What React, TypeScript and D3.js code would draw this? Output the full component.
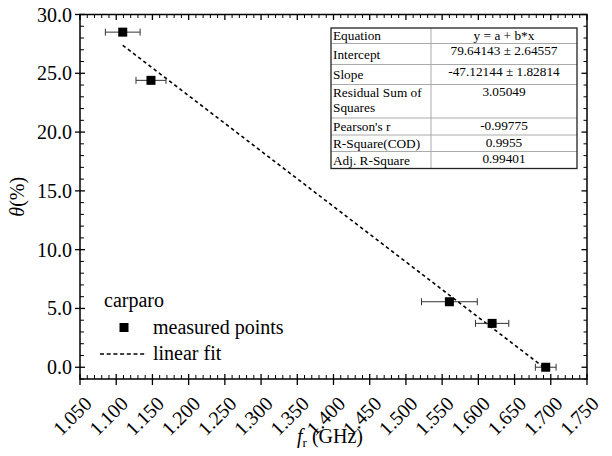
import React from "react";
import * as d3 from "d3";

// ---- data ----
const freq = [1.109, 1.148, 1.56, 1.619, 1.693];
const theta = [28.5, 24.4, 5.57, 3.73, 0.0];
const freqErr = [0.024, 0.0207, 0.0385, 0.023, 0.0143];
const fitIntercept = 79.64143;
const fitSlope = -47.12144;
const xTicks = [1.05, 1.1, 1.15, 1.2, 1.25, 1.3, 1.35, 1.4, 1.45, 1.5, 1.55, 1.6, 1.65, 1.7, 1.75];
const yTicks = [0, 5, 10, 15, 20, 25, 30];
const statLabels = [["Equation"], ["Intercept"], ["Slope"], ["Residual Sum of", "Squares"], ["Pearson's r"], ["R-Square(COD)"], ["Adj. R-Square"]];
const statValues = ["y = a + b*x", "79.64143 \u00b1 2.64557", "-47.12144 \u00b1 1.82814", "3.05049", "-0.99775", "0.9955", "0.99401"];
const legendTitle = "carparo";
const legendItems = ["measured points", "linear fit"];

// ---- layout ----
const W = 612, H = 456;
const L = 80, R = 587, T = 14.5, B = 379;
const FONT = "'Liberation Serif', 'Times New Roman', serif";
const rowLines = [28, 43.5, 64.5, 84.5, 118, 135, 151.5, 168.5];
const tableX0 = 331, tableX1 = 431, tableX2 = 577;

export default function App() {
  const x = d3.scaleLinear().domain([1.05, 1.75]).range([L, R]);
  const y = d3.scaleLinear().domain([-1, 30]).range([B, T]);

  const xMinor = d3.range(1.05, 1.7501, 0.01).filter(v => Math.abs(Math.round(v / 0.05) * 0.05 - v) > 1e-6);
  const yMinor = d3.range(-1, 30.001, 1).filter(v => Math.abs(v % 5) > 1e-6);

  const fitX = [d3.min(freq) as number, d3.max(freq) as number];
  const fitLine = d3.line<number>().x(v => x(v)).y(v => y(fitIntercept + fitSlope * v));

  const ms = 9;
  return (
    <svg width={W} height={H} style={{ position: "absolute", left: 0, top: 0, background: "#fff" }} fontFamily={FONT}>
      <rect x={0} y={0} width={W} height={H} fill="#fff" />
      {/* minor ticks */}
      {xMinor.map((v, i) => (
        <g key={"xm" + i} stroke="#000" strokeWidth={1}>
          <line x1={x(v)} x2={x(v)} y1={B} y2={B - 4} />
          <line x1={x(v)} x2={x(v)} y1={T} y2={T + 3.5} />
        </g>
      ))}
      {yMinor.map((v, i) => (
        <g key={"ym" + i} stroke="#000" strokeWidth={1}>
          <line x1={L} x2={L + 4} y1={y(v)} y2={y(v)} />
          <line x1={R} x2={R - 3.5} y1={y(v)} y2={y(v)} />
        </g>
      ))}
      {/* major ticks */}
      {xTicks.map((v, i) => (
        <g key={"xM" + i} stroke="#000" strokeWidth={1.3}>
          <line x1={x(v)} x2={x(v)} y1={B - 5} y2={B + 6} />
          <line x1={x(v)} x2={x(v)} y1={T} y2={T + 5.5} />
        </g>
      ))}
      {yTicks.map((v, i) => (
        <g key={"yM" + i} stroke="#000" strokeWidth={1.3}>
          <line x1={L - 5} x2={L + 5} y1={y(v)} y2={y(v)} />
          <line x1={R} x2={R - 5.5} y1={y(v)} y2={y(v)} />
        </g>
      ))}
      {/* frame */}
      <rect x={L} y={T} width={R - L} height={B - T} fill="none" stroke="#000" strokeWidth={1.5} />
      {/* tick labels */}
      {yTicks.map((v, i) => (
        <text key={"yl" + i} x={L - 8} y={y(v)} dy="0.35em" textAnchor="end" fontSize={20}>
          {v.toFixed(1)}
        </text>
      ))}
      {xTicks.map((v, i) => (
        <text key={"xl" + i} transform={`translate(${x(v) + 13},${B + 26}) rotate(-45)`} textAnchor="end" fontSize={20}>
          {v.toFixed(3)}
        </text>
      ))}
      {/* axis titles */}
      <text transform={`translate(24,${(T + B) / 2}) rotate(-90)`} textAnchor="middle" fontSize={20}>
        <tspan fontStyle="italic">θ</tspan>
        <tspan>(%)</tspan>
      </text>
      <text x={330} y={443} textAnchor="middle" fontSize={20}>
        <tspan fontStyle="italic">f</tspan>
        <tspan fontSize={13} dy={4}>r</tspan>
        <tspan dy={-4}> (GHz)</tspan>
      </text>
      {/* fit line */}
      <path d={fitLine(fitX) || ""} fill="none" stroke="#000" strokeWidth={1.6} strokeDasharray="3.5,3" />
      {/* error bars */}
      {freq.map((f, i) => (
        <g key={"e" + i} stroke="#333" strokeWidth={1}>
          <line x1={x(f - freqErr[i])} x2={x(f + freqErr[i])} y1={y(theta[i])} y2={y(theta[i])} />
          <line x1={x(f - freqErr[i])} x2={x(f - freqErr[i])} y1={y(theta[i]) - 3.5} y2={y(theta[i]) + 3.5} />
          <line x1={x(f + freqErr[i])} x2={x(f + freqErr[i])} y1={y(theta[i]) - 3.5} y2={y(theta[i]) + 3.5} />
        </g>
      ))}
      {/* markers */}
      {freq.map((f, i) => (
        <rect key={"m" + i} x={x(f) - ms / 2} y={y(theta[i]) - ms / 2} width={ms} height={ms} fill="#000" />
      ))}
      {/* legend */}
      <text x={104} y={306.5} fontSize={20}>{legendTitle}</text>
      <rect x={124 - ms / 2} y={327.5 - ms / 2} width={ms} height={ms} fill="#000" />
      <text x={153} y={334} fontSize={20}>{legendItems[0]}</text>
      <line x1={100} x2={147} y1={354} y2={354} stroke="#000" strokeWidth={1.5} strokeDasharray="4,2.7" />
      <text x={153} y={360} fontSize={20}>{legendItems[1]}</text>
      {/* stats table */}
      <rect x={tableX0} y={rowLines[0]} width={tableX2 - tableX0} height={rowLines[rowLines.length - 1] - rowLines[0]} fill="#fff" />
      {rowLines.slice(1, -1).map((ly, i) => (
        <line key={"tl" + i} x1={tableX0} x2={tableX2} y1={ly} y2={ly} stroke="#aaa" strokeWidth={1} />
      ))}
      <line x1={tableX1} x2={tableX1} y1={rowLines[0]} y2={rowLines[rowLines.length - 1]} stroke="#aaa" strokeWidth={1} />
      <rect x={tableX0} y={rowLines[0]} width={tableX2 - tableX0} height={rowLines[rowLines.length - 1] - rowLines[0]} fill="none" stroke="#222" strokeWidth={1.3} />
      {statLabels.map((lines, i) => {
        const top = rowLines[i], bot = rowLines[i + 1];
        const single = lines.length === 1;
        return (
          <g key={"sr" + i} fontSize={13.3}>
            {lines.map((ln, j) => (
              <text key={j} x={tableX0 + 2} y={single ? (top + bot) / 2 + 4.5 : top + 12.5 + j * 15}>{ln}</text>
            ))}
            <text x={(tableX1 + tableX2) / 2} y={i === 0 ? (top + bot) / 2 + 4.5 : top + 11.5} textAnchor="middle">{statValues[i]}</text>
          </g>
        );
      })}
    </svg>
  );
}
